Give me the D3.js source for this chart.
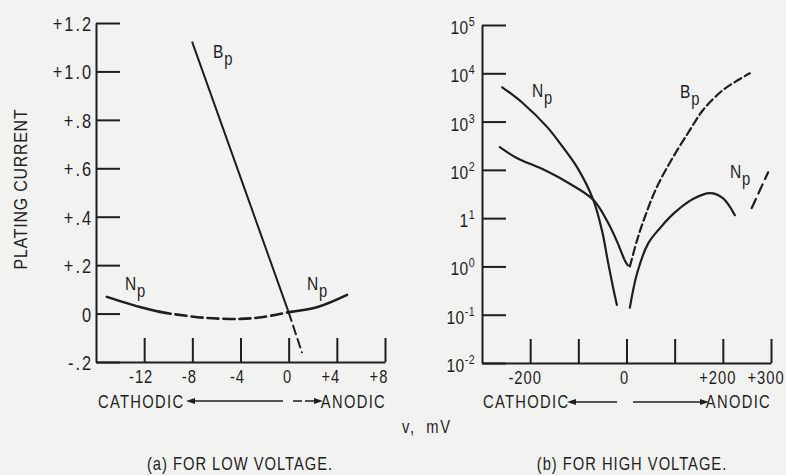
<!DOCTYPE html>
<html><head><meta charset="utf-8">
<script src="https://cdn.jsdelivr.net/npm/d3@7"></script>
<style>
html,body{margin:0;padding:0;background:#f2f2f0;}
svg{display:block;}
text{font-family:"Liberation Sans",Arial,sans-serif;fill:#1e1e1e;font-size:18px;letter-spacing:1.2px;}
</style></head><body>
<svg id="c" width="786" height="475"></svg>
<script>
// ---------- data: panel (a) low voltage ----------
const lowXTicks = [-12, -8, -4, 0, 4, 8];
const lowXLabels = ["-12", "-8", "-4", "0", "+4", "+8"];
const lowYTicks = [1.2, 1.0, 0.8, 0.6, 0.4, 0.2, 0, -0.2];
const lowYLabels = ["+1.2", "+1.0", "+.8", "+.6", "+.4", "+.2", "0", "-.2"];
const lowBpSolidV = [-8, 0];
const lowBpSolidI = [1.12, 0.005];
const lowBpDashV = [0, 1.1];
const lowBpDashI = [0.005, -0.16];
const lowNpLeftV = [-15.1, -12.35, -10.7];
const lowNpLeftI = [0.069, 0.027, 0.007];
const lowNpMidV = [-10.7, -9.6, -6.8, -4.0, -2.1, -0.1];
const lowNpMidI = [0.007, -0.002, -0.018, -0.022, -0.014, 0.005];
const lowNpRightV = [-0.1, 2.4, 4.85];
const lowNpRightI = [0.005, 0.027, 0.077];

// ---------- data: panel (b) high voltage ----------
const highXTicks = [-200, -100, 0, 100, 200, 300];
const highXLabelVals = [-200, 0, 200, 300];
const highXLabels = ["-200", "0", "+200", "+300"];
const highYTicks = [1e5, 1e4, 1e3, 1e2, 1e1, 1e0, 1e-1, 1e-2];
const highYBase = ["10", "10", "10", "10", "1", "10", "10", "10"];
const highYExp = ["5", "4", "3", "2", "1", "0", "-1", "-2"];
const highNpLeftV = [-258, -215, -165, -132, -103, -69, -51, -38, -28, -20];
const highNpLeftI = [5130, 2400, 776, 295, 115, 24, 5.6, 1.17, 0.37, 0.16];
const highBpLeftV = [-263, -227, -180, -124, -69, -38, -18, -3, 3];
const highBpLeftI = [295, 174, 110, 56, 24, 7.9, 3.0, 1.3, 1.05];
const highBpRightV = [7, 22, 38, 63, 97, 130, 159, 200, 230, 256];
const highBpRightI = [1.0, 3.5, 10.5, 44, 186, 630, 1740, 4470, 7080, 10000];
const highNpRightV = [7, 22, 45, 70, 90, 111, 138, 173, 200, 225];
const highNpRightI = [0.14, 0.72, 3.0, 6.3, 10.5, 16.2, 25, 33, 26, 11.5];
const highNpDashV = [260, 294];
const highNpDashI = [16.2, 89];

const INK = "#1e1e1e";
const SX = 0.82; // condensed lettering
const svg = d3.select("#c");
const zip = (a, b) => a.map((v, i) => [v, b[i]]);
const T = (x, y) => `translate(${x},${y}) scale(${SX},1)`;

// ---------- scales ----------
const xL = d3.scaleLinear().domain([-16, 8]).range([96, 385]);
const yL = d3.scaleLinear().domain([-0.2, 1.2]).range([362, 23]);
const xH = d3.scaleLinear().domain([-300, 300]).range([482, 771]);
const yH = d3.scaleLog().domain([1e-2, 1e5]).range([363, 25]);

function styleAxis(g) {
  g.selectAll("path.domain").attr("stroke", INK).attr("stroke-width", 2);
  g.selectAll(".tick line").attr("stroke", INK).attr("stroke-width", 2);
  g.selectAll(".tick text").remove();
}

// ---------- panel (a) axes ----------
svg.append("g").attr("transform", `translate(${xL.range()[0]},0)`)
  .call(d3.axisRight(yL).tickValues(lowYTicks).tickSize(24).tickSizeOuter(0).tickFormat(""))
  .call(styleAxis);
svg.append("g").attr("transform", `translate(0,${yL(-0.2)})`)
  .call(d3.axisTop(xL).tickValues(lowXTicks).tickSize(24).tickSizeOuter(0).tickFormat(""))
  .call(styleAxis);

svg.append("g").selectAll("text").data(lowYTicks).join("text")
  .attr("transform", d => T(93, yL(d) + 8)).attr("text-anchor", "end")
  .style("font-size", "20px").style("letter-spacing", "2.4px")
  .text((d, i) => lowYLabels[i]);
svg.append("g").selectAll("text").data(lowXTicks).join("text")
  .attr("transform", (d, i) => T(xL(d) + (lowXLabels[i][0] === "+" ? -6 : (lowXLabels[i][0] === "-" ? -3 : -1)), 383))
  .attr("text-anchor", "middle")
  .text((d, i) => lowXLabels[i]);

// ---------- panel (b) axes ----------
svg.append("g").attr("transform", `translate(${xH.range()[0]},0)`)
  .call(d3.axisRight(yH).tickValues(highYTicks).tickSize(24).tickSizeOuter(0).tickFormat(""))
  .call(styleAxis);
svg.append("g").attr("transform", `translate(0,${yH(1e-2)})`)
  .call(d3.axisTop(xH).tickValues(highXTicks).tickSize(24).tickSizeOuter(0).tickFormat(""))
  .call(styleAxis);

const yhl = svg.append("g").selectAll("text").data(highYTicks).join("text")
  .attr("transform", d => T(475, yH(d) + 9)).attr("text-anchor", "end")
  .style("font-size", "19px").style("letter-spacing", "0.5px");
yhl.append("tspan").text((d, i) => highYBase[i]);
yhl.append("tspan").attr("dy", -8).style("font-size", "13px").text((d, i) => highYExp[i]);

svg.append("g").selectAll("text").data(highXLabelVals).join("text")
  .attr("transform", (d, i) => T(xH(d) + (highXLabels[i][0] === "0" ? -2 : -5), 384))
  .attr("text-anchor", "middle")
  .text((d, i) => highXLabels[i]);

// ---------- curves ----------
function drawCurve(x, y, pts, dash, width) {
  const line = d3.line().x(d => x(d[0])).y(d => y(d[1])).curve(d3.curveCatmullRom.alpha(0.5));
  svg.append("path").datum(pts).attr("d", line)
    .attr("fill", "none").attr("stroke", INK).attr("stroke-width", width)
    .attr("stroke-linecap", "round")
    .attr("stroke-dasharray", dash || null);
}
drawCurve(xL, yL, zip(lowBpSolidV, lowBpSolidI), null, 2);
drawCurve(xL, yL, zip(lowBpDashV, lowBpDashI), "9,5", 2);
drawCurve(xL, yL, zip(lowNpLeftV, lowNpLeftI), null, 2.6);
drawCurve(xL, yL, zip(lowNpMidV, lowNpMidI), "11,5", 2.6);
drawCurve(xL, yL, zip(lowNpRightV, lowNpRightI), null, 2.6);

drawCurve(xH, yH, zip(highNpLeftV, highNpLeftI), null, 2.2);
drawCurve(xH, yH, zip(highBpLeftV, highBpLeftI), null, 2.2);
drawCurve(xH, yH, zip(highBpRightV, highBpRightI), "8,4", 2.2);
drawCurve(xH, yH, zip(highNpRightV, highNpRightI), null, 2.2);
drawCurve(xH, yH, zip(highNpDashV, highNpDashI), "10,6", 2.2);

// ---------- curve labels ----------
function curveLabel(x, y, main) {
  const t = svg.append("text").attr("transform", T(x, y)).style("letter-spacing", "0px").style("font-size", "19px");
  t.append("tspan").text(main);
  t.append("tspan").attr("dy", 7).attr("dx", 1).style("font-size", "18px").text("p");
}
curveLabel(213, 58, "B");
curveLabel(125, 290, "N");
curveLabel(307, 290, "N");
curveLabel(532, 97, "N");
curveLabel(680, 98, "B");
curveLabel(730, 178, "N");

// ---------- direction annotations ----------
function arrowHead(tipX, y, dir) {
  const L = 9, W = 3;
  svg.append("path")
    .attr("d", `M${tipX},${y} L${tipX - dir * L},${y - W} L${tipX - dir * L},${y + W} Z`)
    .attr("fill", INK);
}
function hline(x1, x2, y, dash) {
  svg.append("line").attr("x1", x1).attr("x2", x2).attr("y1", y).attr("y2", y)
    .attr("stroke", INK).attr("stroke-width", 1.6).attr("stroke-dasharray", dash || null);
}
function label(x, y, txt, anchor) {
  return svg.append("text").attr("transform", T(x, y)).attr("text-anchor", anchor || "start").text(txt);
}
// panel a
label(98, 408, "CATHODIC").style("letter-spacing", "1.6px");
arrowHead(186, 401, -1);
hline(192, 283, 401);
hline(293, 315, 401, "9,3");
arrowHead(323, 401, 1);
label(386, 408, "ANODIC", "end").style("letter-spacing", "1.6px");
// panel b
label(483, 408, "CATHODIC").style("letter-spacing", "1.6px");
arrowHead(567, 402, -1);
hline(573, 617, 402);
hline(633, 702, 402);
arrowHead(709, 402, 1);
label(771, 408, "ANODIC", "end").style("letter-spacing", "1.6px");

// ---------- titles ----------
svg.append("text").attr("transform", "translate(27,189) rotate(-90) scale(0.84,1)")
  .attr("text-anchor", "middle").style("font-size", "19px").style("letter-spacing", "0.9px")
  .text("PLATING CURRENT");
label(402, 433, "v, mV").style("word-spacing", "6px").style("letter-spacing", "2px");
label(240, 470, "(a) FOR LOW VOLTAGE.", "middle");
label(632, 470, "(b) FOR HIGH VOLTAGE.", "middle");
</script>
</body></html>
